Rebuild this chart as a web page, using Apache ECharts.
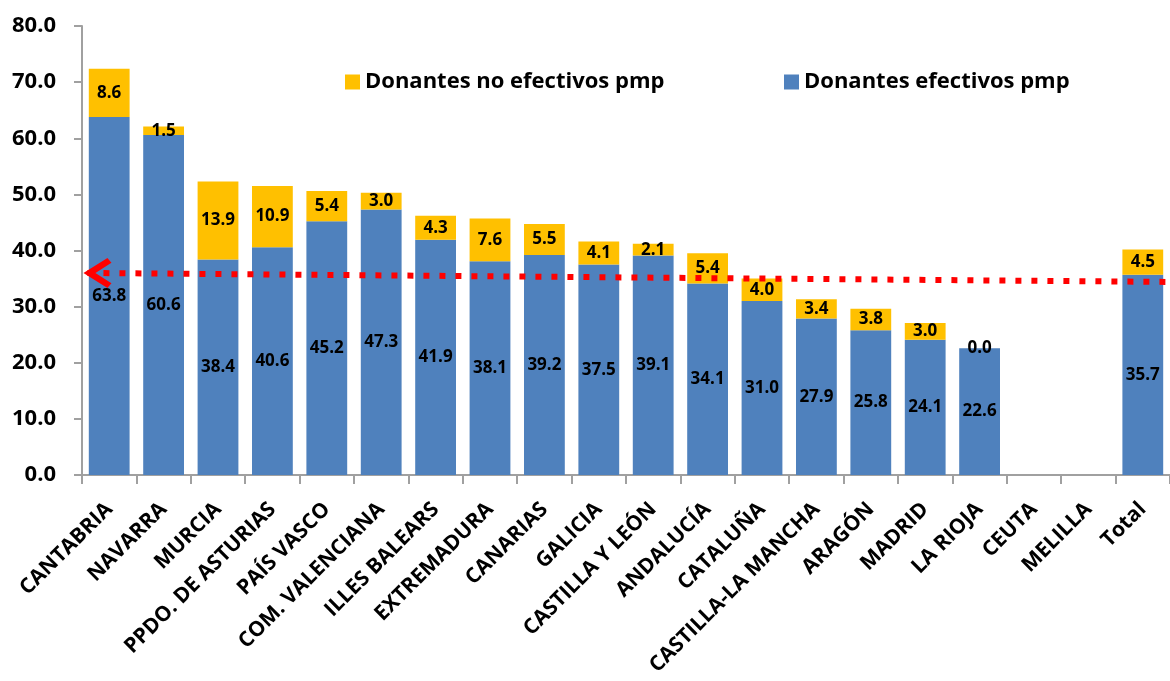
<!DOCTYPE html>
<html>
<head>
<meta charset="utf-8">
<script src="https://cdn.jsdelivr.net/npm/echarts@6/dist/echarts.min.js"></script>
<style>
  html, body { margin: 0; padding: 0; background: #fff; }
  #chart { width: 1170px; height: 681px; }
</style>
</head>
<body>
<div id="chart"></div>
<script>
var categories = ["CANTABRIA", "NAVARRA", "MURCIA", "PPDO. DE ASTURIAS", "PAÍS VASCO",
  "COM. VALENCIANA", "ILLES BALEARS", "EXTREMADURA", "CANARIAS", "GALICIA",
  "CASTILLA Y LEÓN", "ANDALUCÍA", "CATALUÑA", "CASTILLA-LA MANCHA", "ARAGÓN",
  "MADRID", "LA RIOJA", "CEUTA", "MELILLA", "Total"];
var efectivos = [63.8, 60.6, 38.4, 40.6, 45.2, 47.3, 41.9, 38.1, 39.2, 37.5,
  39.1, 34.1, 31.0, 27.9, 25.8, 24.1, 22.6, null, null, 35.7];
var noEfectivos = [8.6, 1.5, 13.9, 10.9, 5.4, 3.0, 4.3, 7.6, 5.5, 4.1,
  2.1, 5.4, 4.0, 3.4, 3.8, 3.0, 0.0, null, null, 4.5];
// red dotted reference line (x in category units, y value)
var refLine = [[0.1, 36.0], [20, 34.4]];

var font = "'Open Sans', 'Noto Sans', sans-serif";
var chevron = "path://M2,12 L10,0 L18,12 L15.5,14 L10,6 L4.5,14 Z";

var chart = echarts.init(document.getElementById("chart"));
var labelStyle = {
  show: true,
  position: "inside",
  color: "#000",
  fontFamily: font,
  fontWeight: "bold",
  fontSize: 17,
  formatter: function (p) { return p.value == null ? "" : p.value.toFixed(1); }
};

chart.setOption({
  animation: false,
  textStyle: { fontFamily: font },
  grid: { left: 82, top: 26, width: 1096, bottom: 206 },
  legend: [
    {
      data: ["Donantes no efectivos pmp"],
      left: 340, top: 66, icon: "rect", itemWidth: 15, itemHeight: 15,
      textStyle: { fontSize: 22, fontWeight: "bold", color: "#000", fontFamily: font }
    },
    {
      data: ["Donantes efectivos pmp"],
      left: 779, top: 66, icon: "rect", itemWidth: 15, itemHeight: 15,
      textStyle: { fontSize: 22, fontWeight: "bold", color: "#000", fontFamily: font }
    }
  ],
  xAxis: [
    {
      type: "category",
      data: categories,
      axisLine: { lineStyle: { color: "#A0A0A0", width: 2 } },
      axisTick: { show: true, length: 9, lineStyle: { color: "#A0A0A0", width: 2 } },
      axisLabel: {
        rotate: 45, interval: 0, margin: 31,
        color: "#000", fontSize: 21, fontWeight: "bold", fontFamily: font
      }
    },
    { type: "value", min: 0, max: 20, show: false }
  ],
  yAxis: {
    type: "value",
    min: 0, max: 80, interval: 10,
    splitLine: { show: false },
    axisLine: { show: true, lineStyle: { color: "#A0A0A0", width: 2 } },
    axisTick: { show: true, length: 8, lineStyle: { color: "#A0A0A0", width: 2 } },
    axisLabel: {
      margin: 26, color: "#000", fontSize: 22, fontWeight: "bold", fontFamily: font,
      formatter: function (v) { return v.toFixed(1); }
    }
  },
  series: [
    {
      name: "Donantes efectivos pmp",
      type: "bar",
      stack: "total",
      barCategoryGap: "25%",
      itemStyle: { color: "#4F81BD" },
      label: labelStyle,
      data: efectivos
    },
    {
      name: "Donantes no efectivos pmp",
      type: "bar",
      stack: "total",
      barCategoryGap: "25%",
      itemStyle: { color: "#FFC000" },
      label: labelStyle,
      data: noEfectivos
    },
    {
      type: "line",
      xAxisIndex: 1,
      z: 5,
      silent: true,
      lineStyle: { color: "#FF0000", width: 6, type: [6, 10], cap: "butt" },
      data: refLine.map(function (p, i) {
        return i === 0
          ? { value: p, symbol: chevron, symbolSize: [30, 28], symbolRotate: 90,
              symbolOffset: [10, 0], itemStyle: { color: "#FF0000" } }
          : { value: p, symbolSize: 0 };
      })
    }
  ]
});
</script>
</body>
</html>
